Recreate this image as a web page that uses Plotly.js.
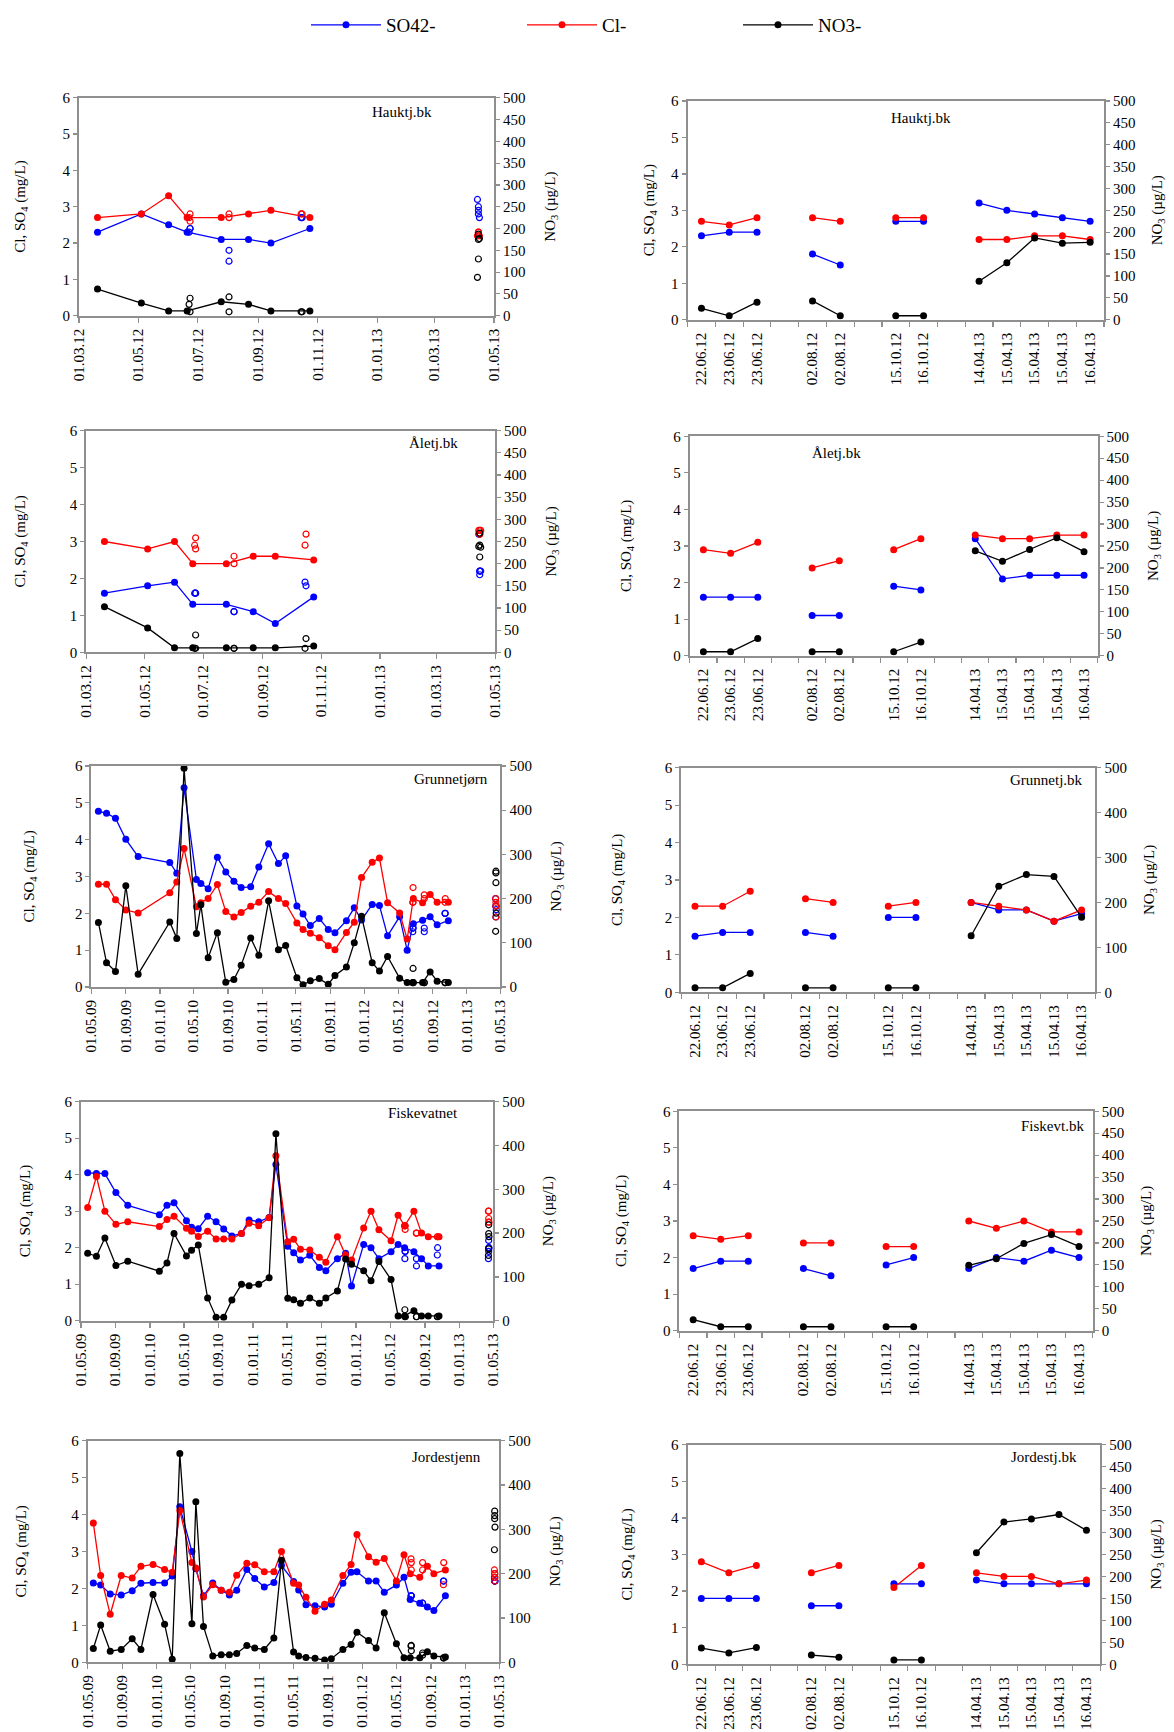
<!DOCTYPE html>
<html>
<head>
<meta charset="utf-8">
<script src="https://cdn.plot.ly/plotly-3.0.1.min.js"></script>
<style>
  html, body { margin: 0; padding: 0; background: #fff; }
  #chart { width: 1174px; height: 1732px; }
</style>
</head>
<body>
<div id="chart"></div>
<script>
// ---- data: monthly lake / brook series (left column) ----
const lakeDates12 = ['2012-03-20', '2012-05-04', '2012-06-01', '2012-06-20', '2012-07-25', '2012-08-22', '2012-09-14', '2012-10-24'];

const hauktjSO4 = [2.3, 2.8, 2.5, 2.3, 2.1, 2.1, 2.0, 2.4];
const hauktjCl  = [2.7, 2.8, 3.3, 2.7, 2.7, 2.8, 2.9, 2.7];
const hauktjNO3 = [61, 29, 11, 11, 32, 26, 11, 11];

const aletjSO4 = [1.6, 1.8, 1.9, 1.3, 1.3, 1.1, 0.78, 1.5];
const aletjCl  = [3.0, 2.8, 3.0, 2.4, 2.4, 2.6, 2.6, 2.5];
const aletjNO3 = [103, 55, 10, 10, 10, 10, 10, 14];

const grunnDates = ['2009-05-26', '2009-06-24', '2009-07-26', '2009-09-01', '2009-10-15', '2010-02-05', '2010-03-02', '2010-03-28', '2010-05-11', '2010-05-27',
  '2010-06-22', '2010-07-25', '2010-08-24', '2010-09-22', '2010-10-18', '2010-11-21', '2010-12-20', '2011-01-24', '2011-02-28', '2011-03-26',
  '2011-05-05', '2011-05-27', '2011-06-22', '2011-07-24', '2011-08-25', '2011-09-18', '2011-10-29', '2011-11-26', '2011-12-22', '2012-01-29',
  '2012-02-24', '2012-03-24', '2012-05-06', '2012-06-02', '2012-06-24', '2012-07-27', '2012-08-23', '2012-09-17', '2012-10-27'];
const grunnSO4 = [4.77, 4.72, 4.58, 4.01, 3.54, 3.38, 3.09, 5.41, 2.92, 2.81, 2.67, 3.52, 3.12, 2.87, 2.70, 2.72, 3.26, 3.89, 3.35, 3.56,
  2.20, 1.98, 1.67, 1.86, 1.56, 1.47, 1.80, 2.15, 1.82, 2.24, 2.21, 1.39, 1.91, 1.00, 1.72, 1.81, 1.91, 1.69, 1.80];
const grunnCl = [2.79, 2.79, 2.37, 2.09, 2.01, 2.56, 2.85, 3.76, 2.18, 2.29, 2.40, 2.78, 2.05, 1.90, 2.02, 2.19, 2.30, 2.59, 2.40, 2.27,
  1.74, 1.56, 1.46, 1.34, 1.12, 1.01, 1.48, 1.76, 2.97, 3.39, 3.50, 2.29, 2.01, 1.30, 2.40, 2.29, 2.51, 2.30, 2.30];
const grunnNO3 = [146, 55, 35, 229, 29, 147, 110, 495, 121, 186, 66, 123, 11, 17, 49, 111, 72, 195, 84, 94,
  21, 5, 14, 19, 6, 26, 45, 100, 160, 55, 36, 69, 20, 10, 10, 10, 34, 13, 10];

const fiskDates = ['2009-05-25', '2009-06-25', '2009-07-25', '2009-09-02', '2009-10-14', '2010-02-03', '2010-03-02', '2010-03-27', '2010-05-10', '2010-05-28',
  '2010-06-21', '2010-07-24', '2010-08-23', '2010-09-19', '2010-10-18', '2010-11-21', '2010-12-18', '2011-01-21', '2011-02-27', '2011-03-23',
  '2011-05-04', '2011-05-25', '2011-06-18', '2011-07-21', '2011-08-24', '2011-09-16', '2011-10-27', '2011-11-25', '2011-12-16', '2012-01-28',
  '2012-02-23', '2012-03-22', '2012-05-04', '2012-05-29', '2012-06-21', '2012-07-24', '2012-08-20', '2012-09-13', '2012-10-21'];
const fiskSO4 = [4.05, 4.03, 4.03, 3.51, 3.16, 2.90, 3.16, 3.23, 2.74, 2.56, 2.52, 2.86, 2.71, 2.51, 2.32, 2.39, 2.76, 2.71, 2.83, 4.28,
  2.04, 1.86, 1.66, 1.79, 1.46, 1.37, 1.70, 1.85, 0.95, 2.09, 2.00, 1.70, 1.89, 2.09, 2.00, 1.89, 1.70, 1.50, 1.50];
const fiskCl = [3.10, 3.95, 3.00, 2.64, 2.71, 2.58, 2.77, 2.86, 2.53, 2.45, 2.31, 2.45, 2.24, 2.24, 2.24, 2.39, 2.67, 2.60, 2.82, 4.52,
  2.16, 2.23, 1.96, 1.94, 1.74, 1.60, 2.30, 1.80, 1.66, 2.54, 3.00, 2.49, 2.19, 2.89, 2.60, 3.00, 2.40, 2.30, 2.30];
const fiskNO3 = [154, 147, 189, 126, 136, 113, 132, 199, 148, 161, 173, 52, 8, 8, 47, 83, 80, 83, 98, 427,
  51, 48, 40, 52, 40, 52, 68, 141, 129, 114, 91, 135, 94, 11, 11, 23, 11, 11, 11];

const jordDates = ['2009-05-21', '2009-06-16', '2009-07-20', '2009-08-28', '2009-10-06', '2009-11-06', '2009-12-19', '2010-01-29', '2010-02-25', '2010-03-24',
  '2010-05-06', '2010-05-20', '2010-06-16', '2010-07-19', '2010-08-18', '2010-09-16', '2010-10-12', '2010-11-17', '2010-12-15', '2011-01-18',
  '2011-02-21', '2011-03-20', '2011-05-02', '2011-05-20', '2011-06-15', '2011-07-17', '2011-08-20', '2011-09-13', '2011-10-24', '2011-11-22',
  '2011-12-13', '2012-01-23', '2012-02-19', '2012-03-19', '2012-05-01', '2012-05-28', '2012-06-19', '2012-07-23', '2012-08-19', '2012-09-11', '2012-10-22'];
const jordSO4 = [2.15, 2.09, 1.85, 1.82, 1.94, 2.14, 2.16, 2.15, 2.34, 4.21, 3.00, 2.53, 1.80, 2.15, 1.95, 1.82, 1.95, 2.51, 2.27, 2.04,
  2.16, 2.62, 2.19, 1.96, 1.56, 1.53, 1.50, 1.57, 2.14, 2.44, 2.45, 2.20, 2.20, 1.90, 2.09, 2.30, 1.70, 1.60, 1.50, 1.40, 1.80];
const jordCl = [3.77, 2.35, 1.30, 2.35, 2.28, 2.60, 2.65, 2.51, 2.44, 4.11, 2.70, 2.55, 1.77, 2.10, 1.95, 1.90, 2.36, 2.68, 2.64, 2.45,
  2.45, 3.00, 2.14, 2.09, 1.76, 1.38, 1.57, 1.69, 2.35, 2.65, 3.46, 2.86, 2.71, 2.81, 2.20, 2.91, 2.40, 2.30, 2.60, 2.40, 2.50];
const jordNO3 = [31, 84, 25, 29, 53, 29, 153, 86, 7, 471, 87, 362, 81, 14, 17, 17, 20, 38, 32, 29,
  55, 230, 23, 14, 11, 9, 5, 8, 29, 40, 68, 49, 32, 112, 42, 10, 10, 10, 24, 14, 12];

// ---- data: brook campaigns (right column), '' = empty slot ----
const bkLabels = ['22.06.12', '23.06.12', '23.06.12', '', '02.08.12', '02.08.12', '', '15.10.12', '16.10.12', '',
  '14.04.13', '15.04.13', '15.04.13', '15.04.13', '16.04.13'];

const hauktjBkSO4 = [2.3, 2.4, 2.4, null, 1.8, 1.5, null, 2.7, 2.7, null, 3.2, 3.0, 2.9, 2.8, 2.7];
const hauktjBkCl  = [2.7, 2.6, 2.8, null, 2.8, 2.7, null, 2.8, 2.8, null, 2.2, 2.2, 2.3, 2.3, 2.2];
const hauktjBkNO3 = [26, 9, 40, null, 43, 9, null, 9, 9, null, 88, 130, 187, 175, 177];

const aletjBkSO4 = [1.6, 1.6, 1.6, null, 1.1, 1.1, null, 1.9, 1.8, null, 3.2, 2.1, 2.2, 2.2, 2.2];
const aletjBkCl  = [2.9, 2.8, 3.1, null, 2.4, 2.6, null, 2.9, 3.2, null, 3.3, 3.2, 3.2, 3.3, 3.3];
const aletjBkNO3 = [9, 9, 39, null, 9, 9, null, 9, 31, null, 239, 215, 242, 269, 237];

const grunnBkSO4 = [1.5, 1.6, 1.6, null, 1.6, 1.5, null, 2.0, 2.0, null, 2.4, 2.2, 2.2, 1.9, 2.1];
const grunnBkCl  = [2.3, 2.3, 2.7, null, 2.5, 2.4, null, 2.3, 2.4, null, 2.4, 2.3, 2.2, 1.9, 2.2];
const grunnBkNO3 = [10, 10, 42, null, 10, 10, null, 10, 10, null, 126, 236, 262, 258, 167];

const fiskBkSO4 = [1.7, 1.9, 1.9, null, 1.7, 1.5, null, 1.8, 2.0, null, 1.7, 2.0, 1.9, 2.2, 2.0];
const fiskBkCl  = [2.6, 2.5, 2.6, null, 2.4, 2.4, null, 2.3, 2.3, null, 3.0, 2.8, 3.0, 2.7, 2.7];
const fiskBkNO3 = [25, 9, 9, null, 9, 9, null, 9, 9, null, 149, 164, 199, 219, 192];

const jordBkSO4 = [1.8, 1.8, 1.8, null, 1.6, 1.6, null, 2.2, 2.2, null, 2.3, 2.2, 2.2, 2.2, 2.2];
const jordBkCl  = [2.8, 2.5, 2.7, null, 2.5, 2.7, null, 2.1, 2.7, null, 2.5, 2.4, 2.4, 2.2, 2.3];
const jordBkNO3 = [37, 26, 38, null, 21, 16, null, 10, 10, null, 254, 324, 331, 341, 305];

const seriesNames = ['SO42-', 'Cl-', 'NO3-'];
const seriesColors = ['#0000ff', '#ff0000', '#000000'];

// ---- layout helpers ----
const W = 1174, H = 1732;
const FONT = 'Liberation Serif, Times New Roman, serif';
const AXIS = '#8f8f8f';

// dd.mm.yy -> yyyy-mm-dd, used to place brook samples on the date axes
const bkDates = bkLabels.map(s => s ? '20' + s.slice(6, 8) + '-' + s.slice(3, 5) + '-' + s.slice(0, 2) : null);
const bkSlots = bkLabels.map((s, i) => i);

// box = [left, right, top, bottom] in px
const panels = [
  { box: [79, 494, 97.7, 315.7], kind: 'd12', step: 50, name: 'Hauktj.bk', nameAt: [402, 112], titleX: [21, 551],
    x: lakeDates12, v: [hauktjSO4, hauktjCl, hauktjNO3], bk: [hauktjBkSO4, hauktjBkCl, hauktjBkNO3] },
  { box: [687.6, 1104, 101, 319.7], kind: 'cat', step: 50, name: 'Hauktj.bk', nameAt: [921, 118], titleX: [650, 1158],
    v: [hauktjBkSO4, hauktjBkCl, hauktjBkNO3] },
  { box: [86.2, 495.1, 430.7, 652.3], kind: 'd12', step: 50, name: 'Åletj.bk', nameAt: [433, 443], titleX: [20, 551],
    x: lakeDates12, v: [aletjSO4, aletjCl, aletjNO3], bk: [aletjBkSO4, aletjBkCl, aletjBkNO3] },
  { box: [689.8, 1097.6, 436.3, 655.7], kind: 'cat', step: 50, name: 'Åletj.bk', nameAt: [836, 453], titleX: [627, 1154],
    v: [aletjBkSO4, aletjBkCl, aletjBkNO3] },
  { box: [91.4, 500.4, 766, 987], kind: 'd09', step: 100, name: 'Grunnetjørn', nameAt: [451, 779], titleX: [30, 557],
    x: grunnDates, v: [grunnSO4, grunnCl, grunnNO3], bk: [grunnBkSO4, grunnBkCl, grunnBkNO3] },
  { box: [681.2, 1095.4, 767.7, 992.3], kind: 'cat', step: 100, name: 'Grunnetj.bk', nameAt: [1046, 780], titleX: [618, 1150],
    v: [grunnBkSO4, grunnBkCl, grunnBkNO3] },
  { box: [80.9, 493.2, 1101.7, 1320.7], kind: 'd09', step: 100, name: 'Fiskevatnet', nameAt: [423, 1113], titleX: [26, 549],
    x: fiskDates, v: [fiskSO4, fiskCl, fiskNO3], bk: [fiskBkSO4, fiskBkCl, fiskBkNO3] },
  { box: [679.4, 1092.8, 1111.3, 1330.7], kind: 'cat', step: 50, name: 'Fiskevt.bk', nameAt: [1052, 1126], titleX: [622, 1147],
    v: [fiskBkSO4, fiskBkCl, fiskBkNO3] },
  { box: [87.7, 499.2, 1440.7, 1662.3], kind: 'd09', step: 100, name: 'Jordestjenn', nameAt: [446, 1457], titleX: [21, 555],
    x: jordDates, v: [jordSO4, jordCl, jordNO3], bk: [jordBkSO4, jordBkCl, jordBkNO3] },
  { box: [687.6, 1100.2, 1444.7, 1664.3], kind: 'cat', step: 50, name: 'Jordestj.bk', nameAt: [1044, 1457], titleX: [627, 1156],
    v: [jordBkSO4, jordBkCl, jordBkNO3] }
];

const traces = [];
const layout = {
  width: W, height: H,
  margin: { l: 0, r: 0, t: 0, b: 0 },
  paper_bgcolor: '#fff', plot_bgcolor: '#fff',
  font: { family: FONT, size: 15, color: '#000' },
  showlegend: true,
  legend: {
    orientation: 'h', x: 306 / W, xanchor: 'left', y: 1 - 6 / H, yanchor: 'top',
    font: { family: FONT, size: 19, color: '#000' },
    itemwidth: 70, entrywidth: 131, entrywidthmode: 'pixels',
    bgcolor: 'rgba(0,0,0,0)'
  },
  annotations: [],
  hovermode: false
};

panels.forEach((p, i) => {
  const xId = i === 0 ? 'x' : 'x' + (i + 1);
  const yL = 'y' + (2 * i + 1 === 1 ? '' : 2 * i + 1);
  const yR = 'y' + (2 * i + 2);
  const xKey = i === 0 ? 'xaxis' : 'xaxis' + (i + 1);
  const yLKey = 2 * i + 1 === 1 ? 'yaxis' : 'yaxis' + (2 * i + 1);
  const yRKey = 'yaxis' + (2 * i + 2);
  const [l, r, t, b] = p.box;
  const xDom = [l / W, r / W];
  const yDom = [1 - b / H, 1 - t / H];

  const common = {
    showgrid: false, zeroline: false, showline: true,
    linecolor: AXIS, linewidth: 2, tickcolor: AXIS, tickwidth: 1.2,
    tickfont: { family: FONT, size: 15, color: '#000' }, fixedrange: true
  };

  if (p.kind === 'cat') {
    const vals = bkSlots.filter(k => bkLabels[k]);
    layout[xKey] = Object.assign({}, common, {
      domain: xDom, anchor: yL, range: [-0.5, bkLabels.length - 0.5],
      tickmode: 'array', tickvals: vals, ticktext: vals.map(k => bkLabels[k]),
      ticks: 'outside', ticklen: 5, tickcolor: 'rgba(0,0,0,0)', tickangle: -90, mirror: true,
      minor: { tickmode: 'array', tickvals: bkLabels.map((s, k) => k - 0.5).concat([bkLabels.length - 0.5]),
        ticks: 'outside', ticklen: 5, tickcolor: AXIS, tickwidth: 1.2 }
    });
  } else {
    const d12 = p.kind === 'd12';
    layout[xKey] = Object.assign({}, common, {
      domain: xDom, anchor: yL, type: 'date',
      range: d12 ? ['2012-03-01', '2013-05-01'] : ['2009-05-01', '2013-05-01'],
      tick0: d12 ? '2012-03-01' : '2009-05-01', dtick: d12 ? 'M2' : 'M4',
      tickformat: '%d.%m.%y', ticks: 'outside', ticklen: 5, tickangle: -90, mirror: true
    });
  }
  layout[yLKey] = Object.assign({}, common, {
    domain: yDom, anchor: xId, range: [0, 6], dtick: 1, ticks: 'outside', ticklen: 4
  });
  layout[yRKey] = Object.assign({}, common, {
    domain: yDom, anchor: xId, overlaying: yL, side: 'right',
    range: [0, 500], dtick: p.step, ticks: 'outside', ticklen: 4
  });

  const xs = p.kind === 'cat' ? bkSlots : p.x;
  p.v.forEach((vals, s) => {
    traces.push({
      type: 'scatter', mode: 'lines+markers', name: seriesNames[s],
      x: xs, y: vals, xaxis: xId, yaxis: s === 2 ? yR : yL,
      line: { color: seriesColors[s], width: 1.3 },
      marker: { color: seriesColors[s], size: 7 },
      showlegend: i === 0, legendrank: s + 1
    });
  });
  // brook samples as open circles on the monthly charts
  if (p.bk) {
    p.bk.forEach((vals, s) => {
      traces.push({
        type: 'scatter', mode: 'markers', name: seriesNames[s] + ' bk',
        x: bkDates, y: vals, xaxis: xId, yaxis: s === 2 ? yR : yL,
        marker: { symbol: 'circle-open', color: seriesColors[s], size: 6, line: { width: 1.2 } },
        showlegend: false
      });
    });
  }

  const midY = 1 - (t + b) / 2 / H;
  layout.annotations.push(
    { xref: 'paper', yref: 'paper', x: p.nameAt[0] / W, y: 1 - p.nameAt[1] / H, text: p.name,
      showarrow: false, xanchor: 'center', yanchor: 'middle', font: { family: FONT, size: 15, color: '#000' } },
    { xref: 'paper', yref: 'paper', x: p.titleX[0] / W, y: midY, text: 'Cl, SO<sub>4</sub> (mg/L)', textangle: -90,
      showarrow: false, xanchor: 'center', yanchor: 'middle', font: { family: FONT, size: 15, color: '#000' } },
    { xref: 'paper', yref: 'paper', x: p.titleX[1] / W, y: midY, text: 'NO<sub>3</sub> (µg/L)', textangle: -90,
      showarrow: false, xanchor: 'center', yanchor: 'middle', font: { family: FONT, size: 15, color: '#000' } }
  );
});

Plotly.newPlot('chart', traces, layout, { displayModeBar: false, staticPlot: true });
</script>
</body>
</html>
